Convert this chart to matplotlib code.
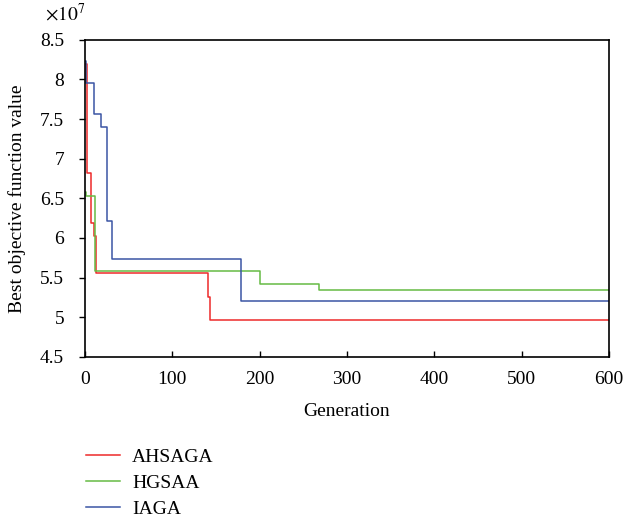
import numpy as np
import matplotlib
matplotlib.use('Agg')
import matplotlib.pyplot as plt

plt.rcParams['font.family'] = ['Liberation Serif', 'DejaVu Serif']
plt.rcParams['mathtext.fontset'] = 'stix'

# Data (values in units of 1e7)
ahsaga_gen = [0, 3, 7, 10, 13, 141, 143, 600]
ahsaga_val = [8.20, 6.82, 6.19, 6.02, 5.56, 5.26, 4.96, 4.96]

hgsaa_gen = [0, 1, 12, 200, 268, 600]
hgsaa_val = [6.58, 6.53, 5.58, 5.42, 5.34, 5.34]

iaga_gen = [0, 1, 10, 18, 25, 31, 179, 600]
iaga_val = [8.23, 7.96, 7.56, 7.40, 6.21, 5.73, 5.21, 5.21]

y_ticks = [4.5, 5, 5.5, 6, 6.5, 7, 7.5, 8, 8.5]
x_ticks = [0, 100, 200, 300, 400, 500, 600]

fig = plt.figure(figsize=(6.24, 5.24), dpi=100)
ax = fig.add_axes([0.136, 0.319, 0.840, 0.605])

ax.plot(ahsaga_gen, ahsaga_val, drawstyle='steps-post', color='#ee2a2a', lw=1.1, label='AHSAGA')
ax.plot(hgsaa_gen, hgsaa_val, drawstyle='steps-post', color='#66bb44', lw=1.1, label='HGSAA')
ax.plot(iaga_gen, iaga_val, drawstyle='steps-post', color='#3a55a4', lw=1.1, label='IAGA')

ax.set_xlim(0, 600)
ax.set_ylim(4.5, 8.5)
ax.set_xticks(x_ticks)
ax.set_yticks(y_ticks)
ax.set_yticklabels([('%g' % v) for v in y_ticks])
ax.tick_params(axis='x', direction='in', length=4, width=1, labelsize=14, pad=10)
ax.tick_params(axis='y', direction='out', length=4, width=1, labelsize=14, pad=11)
for s in ax.spines.values():
    s.set_linewidth(1.2)
ax.set_xlabel('Generation', fontsize=14, labelpad=11)
ax.set_ylabel('Best objective function value', fontsize=14, labelpad=10)
fig.text(0.072, 0.975, r'$\times 10^7$', fontsize=14, va='center', ha='left')

ax.legend(loc='upper left', bbox_to_anchor=(-0.012, -0.265), frameon=False,
          fontsize=14, handlelength=1.75, handletextpad=0.6, labelspacing=0.42,
          borderaxespad=0)

fig.savefig('out.png', dpi=100)
